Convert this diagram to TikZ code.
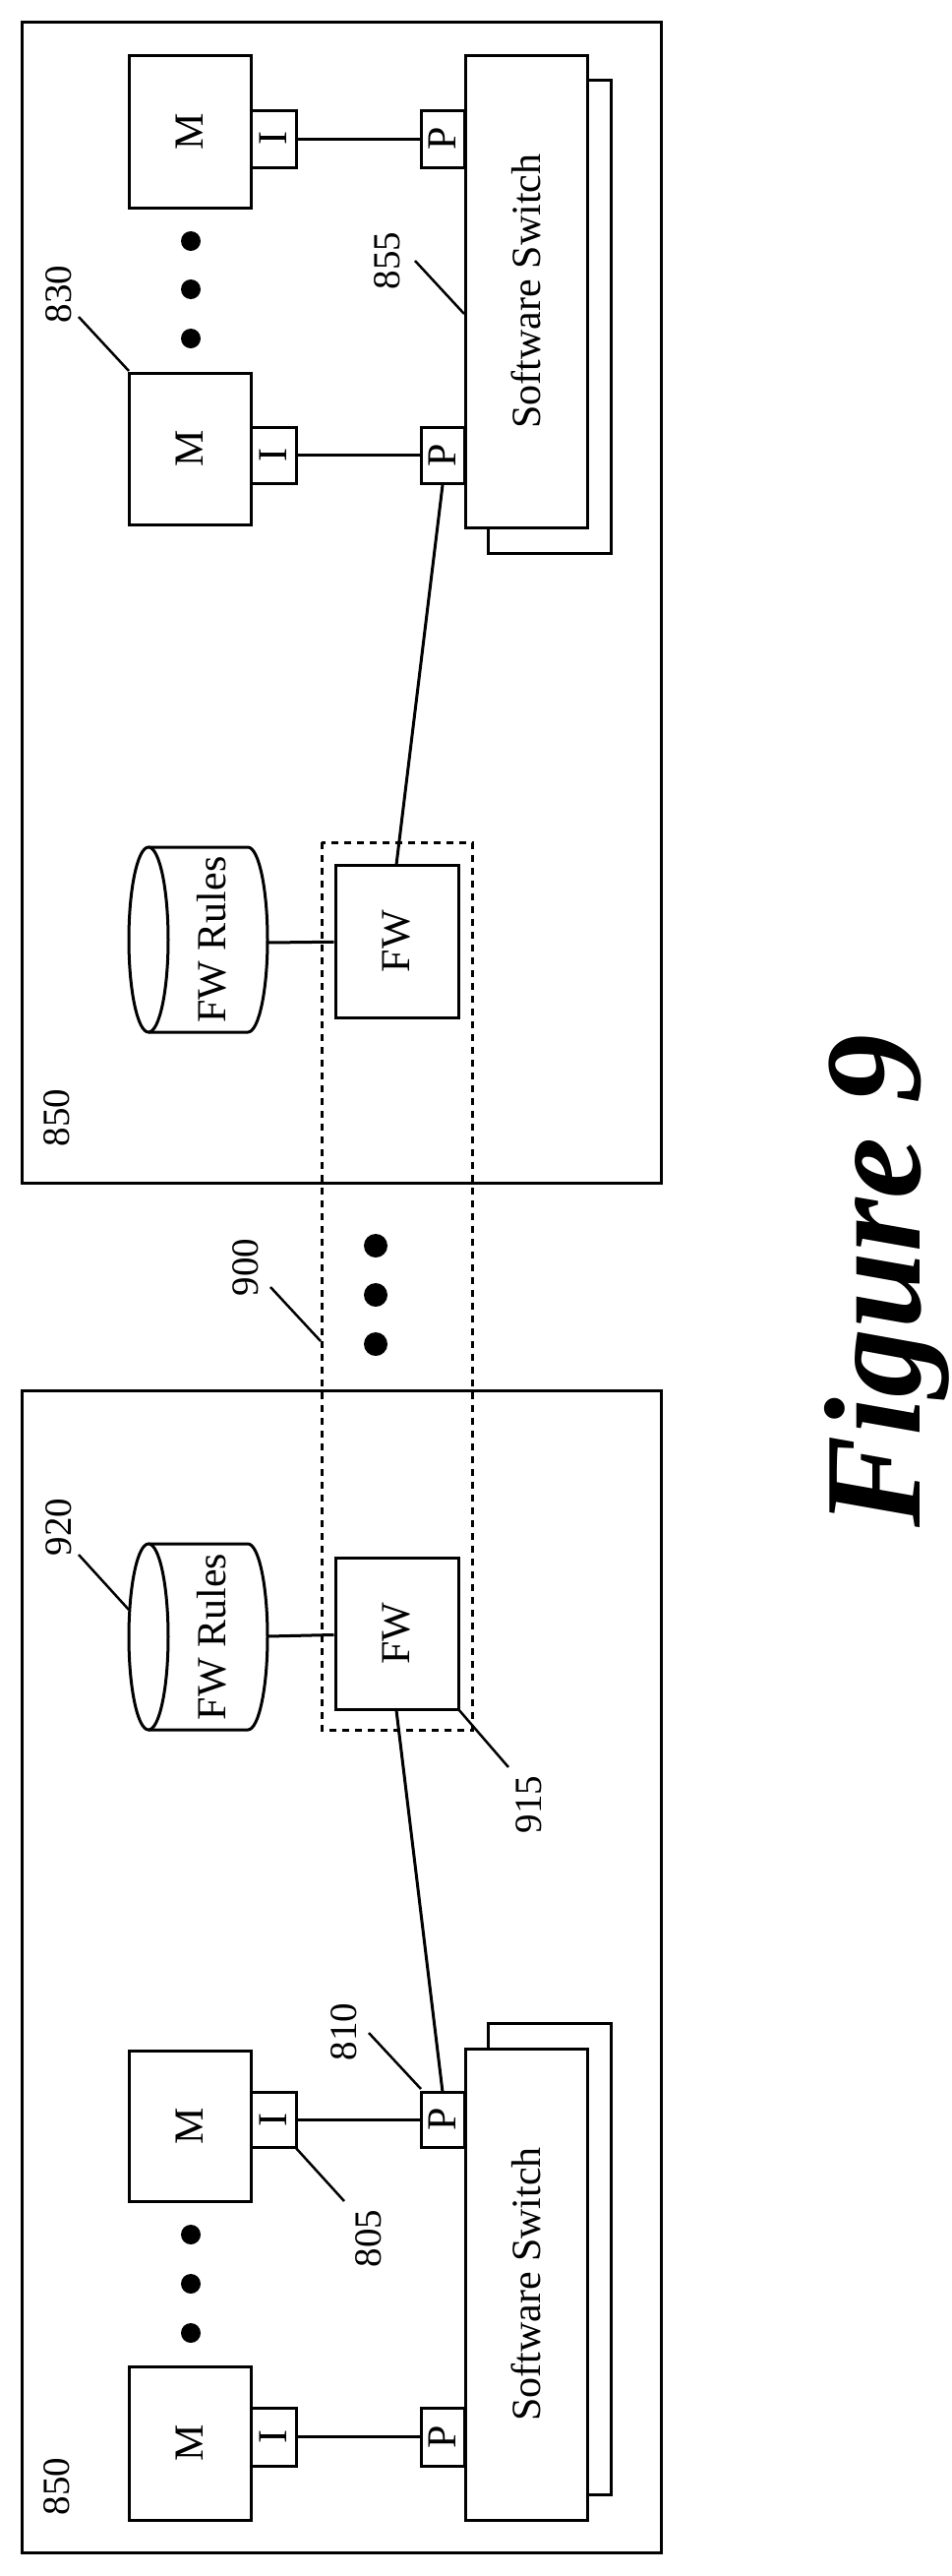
\documentclass[tikz,border=0pt]{standalone}
\usepackage{fontspec}
\setmainfont{Liberation Serif}
\begin{document}
\begin{tikzpicture}[x=1pt,y=-1pt,line width=3pt,
  box/.style={draw,fill=white,inner sep=0pt,font=\fontsize{42}{42}\selectfont,rotate=90},
  lbl/.style={font=\fontsize{39}{39}\selectfont,rotate=90,inner sep=0pt},
  dot/.style={circle,fill,inner sep=0pt,minimum size=24pt},
  dashbox/.style={draw,line width=3pt,dash pattern=on 7pt off 6pt}]
\useasboundingbox (0,0) rectangle (968,2618);
% hosts
\draw (22,22) rectangle (672,1202);
\draw (22,1413) rectangle (672,2594);
\node[lbl] (h1) at (58,1136) {850};
\node[lbl] (h2) at (58,2527) {850};
% ---------- top host ----------
\draw[fill=white] (496,81) rectangle (621,562);
\node[box,minimum width=480pt,minimum height=124pt] (sw1) at (535,296) {Software Switch};
\node[box,minimum width=155pt,minimum height=124pt] (m1) at (193,133.5) {M};
\node[box,minimum width=154pt,minimum height=124pt] (m2) at (193,456) {M};
\node[box,minimum width=58pt,minimum height=46pt] (i1) at (278,141) {I};
\node[box,minimum width=57pt,minimum height=46pt] (i2) at (278,462.5) {I};
\node[box,minimum width=58pt,minimum height=44pt] (p1) at (450,141) {P};
\node[box,minimum width=57pt,minimum height=44pt] (p2) at (450,462.5) {P};
\draw (i1) -- (p1);
\draw (i2) -- (p2);
\node[dot,minimum size=20pt] (d1) at (194,245) {};
\node[dot,minimum size=20pt] (d2) at (194,294) {};
\node[dot,minimum size=20pt] (d3) at (194,344) {};
\node[lbl] (l830) at (60,299) {830};
\coordinate (c830) at (131,377);
\draw[line width=2.5pt] (80,322) -- (c830);
\node[lbl] (l855) at (394,265) {855};
\coordinate (c855) at (472,319);
\draw[line width=2.5pt] (422,265) -- (c855);
% cylinder top
\draw[fill=white] (151,861) -- (252,861) arc[start angle=-90,end angle=90,x radius=20,y radius=94] -- (151,1049);
\draw[fill=white] (151,955) ellipse[x radius=20,y radius=94];
\node[lbl,font=\fontsize{42}{42}\selectfont] (r1) at (215,955) {FW Rules};
\coordinate (r1e) at (272,958);
\node[box,minimum width=155pt,minimum height=125pt] (fw1) at (403.5,956.5) {FW};
\draw (r1e) -- (fw1);
\coordinate (fw1a) at (403,879);
\coordinate (p2a) at (450,493);
\draw (fw1a) -- (p2a);
% ---------- bottom host ----------
\draw[fill=white] (496,2056) rectangle (621,2535);
\node[box,minimum width=479pt,minimum height=124pt] (sw2) at (535,2321.5) {Software Switch};
\node[box,minimum width=153pt,minimum height=124pt] (m3) at (193,2160.5) {M};
\node[box,minimum width=156pt,minimum height=124pt] (m4) at (193,2483) {M};
\node[box,minimum width=56pt,minimum height=46pt] (i3) at (278,2154) {I};
\node[box,minimum width=59pt,minimum height=46pt] (i4) at (278,2476.5) {I};
\node[box,minimum width=56pt,minimum height=44pt] (p3) at (450,2154) {P};
\node[box,minimum width=59pt,minimum height=44pt] (p4) at (450,2476.5) {P};
\draw (i3) -- (p3);
\draw (i4) -- (p4);
\node[dot,minimum size=20pt] (d4) at (194,2271) {};
\node[dot,minimum size=20pt] (d5) at (194,2321) {};
\node[dot,minimum size=20pt] (d6) at (194,2371) {};
\draw[fill=white] (151,1569) -- (252,1569) arc[start angle=-90,end angle=90,x radius=20,y radius=94.5] -- (151,1758);
\draw[fill=white] (151,1663.5) ellipse[x radius=20,y radius=94.5];
\node[lbl,font=\fontsize{42}{42}\selectfont] (r2) at (215,1663.5) {FW Rules};
\coordinate (r2e) at (272,1663);
\node[box,minimum width=154pt,minimum height=125pt] (fw2) at (403.5,1660) {FW};
\draw (r2e) -- (fw2);
\coordinate (fw2a) at (403,1738);
\coordinate (p3a) at (450,2126);
\draw (fw2a) -- (p3a);
\node[lbl] (l920) at (60,1552) {920};
\coordinate (c920) at (131,1636);
\draw[line width=2.5pt] (80,1580) -- (c920);
\node[lbl] (l915) at (538,1834) {915};
\coordinate (c915) at (466,1737);
\draw[line width=2.5pt] (c915) -- (517,1796);
\node[lbl] (l810) at (350,2065) {810};
\coordinate (c810) at (428,2123);
\draw[line width=2.5pt] (375,2066) -- (c810);
\node[lbl] (l805) at (375,2275) {805};
\coordinate (c805) at (300,2182);
\draw[line width=2.5pt] (c805) -- (350,2237);
% ---------- cluster ----------
\draw[dashbox] (327,856) rectangle (480,1758);
\node[dot] (e1) at (382,1266) {};
\node[dot] (e2) at (382,1316) {};
\node[dot] (e3) at (382,1366) {};
\node[lbl] (l900) at (250,1288) {900};
\coordinate (c900) at (326,1363);
\draw[line width=2.5pt] (275,1308) -- (c900);
\node[rotate=90,font=\fontsize{140}{140}\selectfont\bfseries\itshape] (fig) at (902,1302) {Figure 9};
\end{tikzpicture}
\end{document}
